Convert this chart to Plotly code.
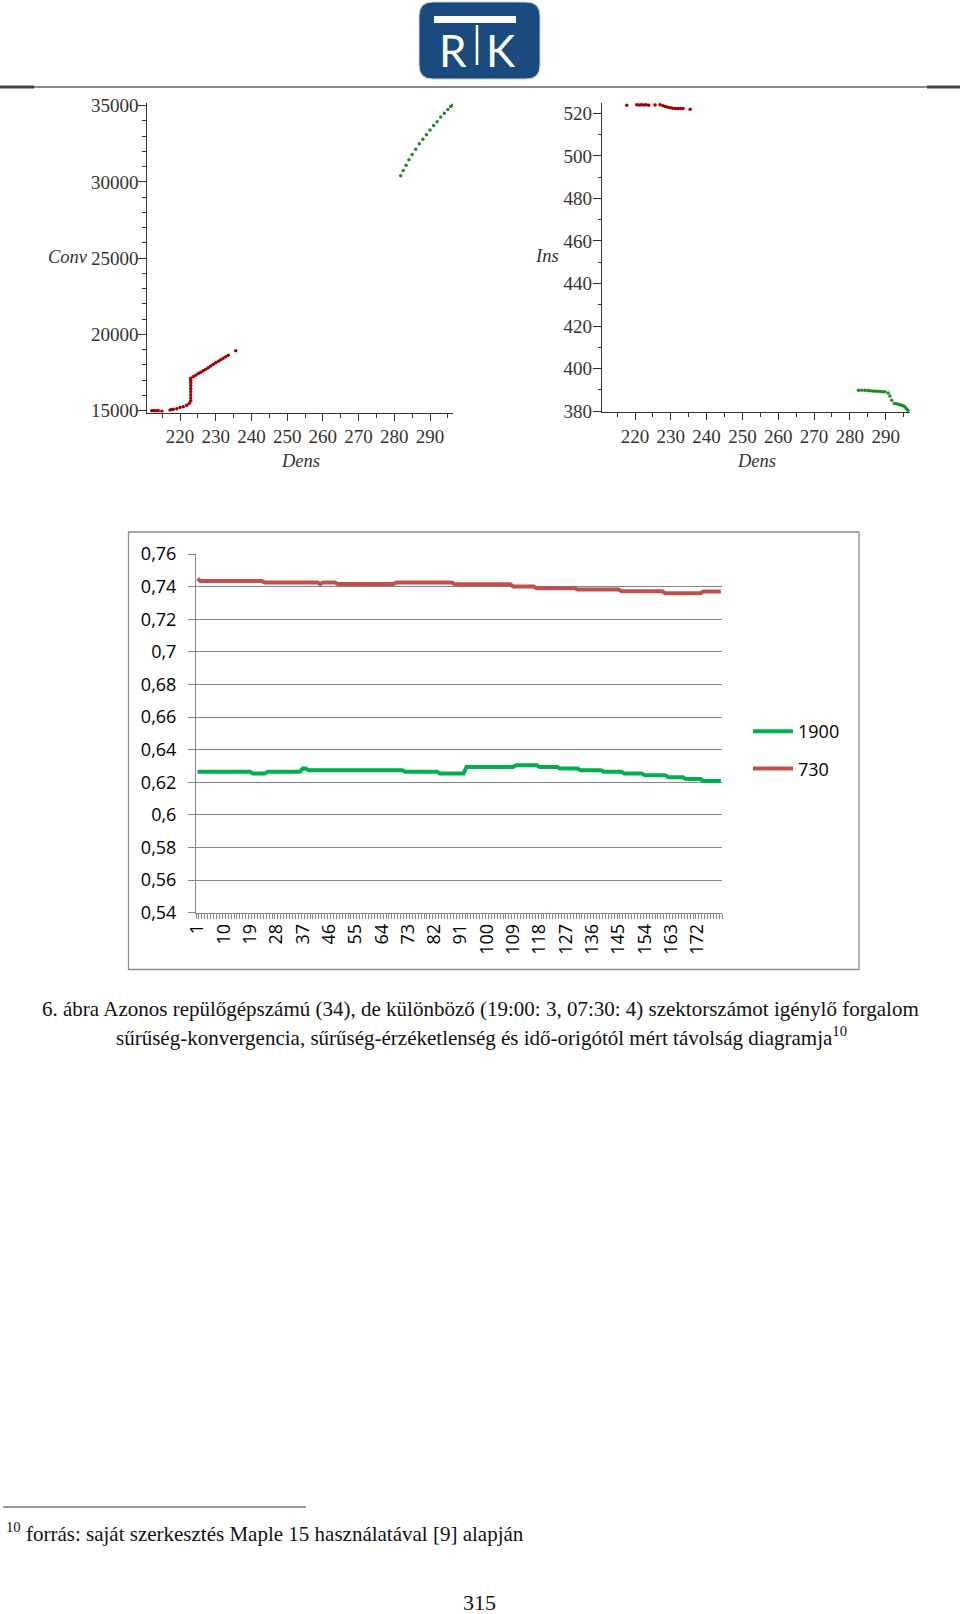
import plotly.graph_objects as go

W, H = 960, 1614

# ---- top left: Dens vs Conv (Maple point plot)
conv_red_dens = [212.1, 212.6, 213.0, 213.5, 213.9, 214.9, 217.2, 217.7, 218.1, 219.1, 220.0, 220.9, 221.9, 222.6,
                 223.0, 223.0, 223.0, 223.0, 223.0, 223.0, 223.0, 223.0, 223.0,
                 223.7, 224.4, 225.1, 225.8, 226.5, 227.2, 227.9, 228.6, 229.3, 230.0, 230.7, 231.4, 232.1, 232.8,
                 233.5, 235.6]
conv_red_val = [14990, 15000, 14980, 15000, 14990, 14960, 15050, 15070, 15090, 15130, 15200, 15260, 15350, 15490,
                15650, 15850, 16050, 16250, 16450, 16650, 16850, 17000, 17120,
                17230, 17330, 17430, 17520, 17620, 17720, 17820, 17930, 18040, 18140, 18240, 18340, 18440, 18540,
                18630, 18930]
conv_green_dens = [281.8, 282.5, 283.3, 284.1, 285.0, 286.0, 287.0, 288.0, 289.0, 290.0, 291.0, 292.0, 293.0,
                   294.0, 295.0, 295.8, 296.3]
conv_green_val = [30400, 30750, 31100, 31450, 31800, 32150, 32500, 32800, 33100, 33400, 33700, 33950, 34250,
                  34500, 34750, 34950, 35050]

# ---- top right: Dens vs Ins
ins_red_dens = [217.7, 220.5, 221.2, 221.8, 222.5, 223.1, 223.8, 225.6, 227.0, 227.8, 228.5, 229.2, 229.9, 230.6,
                231.3, 232.0, 232.7, 233.4, 235.4]
ins_red_val = [523.8, 524.0, 523.9, 524.0, 523.9, 524.0, 523.8, 523.9, 524.0, 523.6, 523.2, 522.8, 522.6, 522.4,
               522.3, 522.3, 522.2, 522.3, 521.9]
ins_green_dens = [282.4, 283.3, 284.2, 285.0, 285.6, 286.3, 287.0, 287.7, 288.4, 289.1, 289.8, 290.7, 291.2, 291.7,
                  292.4, 293.0, 293.5, 294.0, 294.5, 295.0, 295.4, 295.8, 296.2]
ins_green_val = [389.9, 389.9, 389.9, 389.7, 389.6, 389.5, 389.4, 389.4, 389.3, 389.2, 389.1, 388.6, 387.1, 385.2,
                 383.6, 383.5, 383.3, 383.0, 382.8, 382.4, 382.0, 381.2, 380.5]

# ---- bottom: Excel line chart, 180 categories
cats = list(range(1, 181))
line_1900 = ([0.6264] * 19 + [0.6253] * 5 + [0.6264] * 12 + [0.6284] * 2 + [0.6274] * 33 + [0.6264] * 12 +
             [0.6253] * 9 + [0.6294] * 17 + [0.6305] * 8 + [0.6294] * 7 + [0.6284] * 7 + [0.6274] * 8 +
             [0.6264] * 7 + [0.6253] * 7 + [0.6243] * 8 + [0.6230] * 6 + [0.6220] * 6 + [0.6208] * 7)
line_730 = ([0.7447] * 1 + [0.7435] * 22 + [0.7425] * 19 + [0.7416] * 1 + [0.7425] * 5 + [0.7416] * 20 +
            [0.7425] * 20 + [0.7414] * 20 + [0.7400] * 8 + [0.7390] * 14 + [0.7382] * 15 + [0.7371] * 15 +
            [0.7359] * 13 + [0.7370] * 7)
xtick_vals = list(range(1, 181, 9))
ytick_vals = [0.54, 0.56, 0.58, 0.60, 0.62, 0.64, 0.66, 0.68, 0.70, 0.72, 0.74, 0.76]
ytick_text = ["0,54", "0,56", "0,58", "0,6", "0,62", "0,64", "0,66", "0,68", "0,7", "0,72", "0,74", "0,76"]


def px(x):
    return x / W


def py(y):
    return 1 - y / H


serif = "Liberation Serif"
red_pt, green_pt = "#a00000", "#1e8c1e"

fig = go.Figure()
fig.add_trace(go.Scatter(x=conv_red_dens, y=conv_red_val, mode="markers", xaxis="x", yaxis="y",
                         marker=dict(color=red_pt, size=3.5), showlegend=False))
fig.add_trace(go.Scatter(x=conv_green_dens, y=conv_green_val, mode="markers", xaxis="x", yaxis="y",
                         marker=dict(color=green_pt, size=3.5), showlegend=False))
fig.add_trace(go.Scatter(x=ins_red_dens, y=ins_red_val, mode="markers", xaxis="x2", yaxis="y2",
                         marker=dict(color=red_pt, size=3.5), showlegend=False))
fig.add_trace(go.Scatter(x=ins_green_dens, y=ins_green_val, mode="markers", xaxis="x2", yaxis="y2",
                         marker=dict(color=green_pt, size=3.5), showlegend=False))
fig.add_trace(go.Scatter(x=cats, y=line_1900, mode="lines", name="1900", xaxis="x3", yaxis="y3",
                         line=dict(color="#00b050", width=4), legendgroup="a"))
fig.add_trace(go.Scatter(x=cats, y=line_730, mode="lines", name="730", xaxis="x3", yaxis="y3",
                         line=dict(color="#c0504d", width=4), legendgroup="b"))

maple_font = dict(family=serif, size=19, color="#333")
maple_ax = dict(showline=True, linecolor="#333", linewidth=1, ticks="outside", tickcolor="#333",
                showgrid=False, zeroline=False, tickfont=maple_font)
excel_font = dict(family="Open Sans", size=18, color="#000")

fig.update_layout(
    width=W, height=H, margin=dict(l=0, r=0, t=0, b=0),
    template="none", paper_bgcolor="white", plot_bgcolor="white",
    font=dict(family=serif, color="#333"),
    xaxis=dict(domain=[px(147.3), px(453)], range=[210.84, 296.44], anchor="y", dtick=10, tick0=0, ticklen=7,
               minor=dict(dtick=5, ticklen=4, ticks="outside", tickcolor="#333"), **maple_ax),
    yaxis=dict(domain=[py(412.5), py(103.4)], range=[14880, 35150], anchor="x", dtick=5000, tick0=0,
               ticklen=8, tickformat="d", ticklabelstandoff=-4,
               minor=dict(dtick=1000, ticklen=4, ticks="outside", tickcolor="#333"), **maple_ax),
    xaxis2=dict(domain=[px(601.7), px(910)], range=[210.7, 296.8], anchor="y2", dtick=10, tick0=0, ticklen=7,
                minor=dict(dtick=5, ticklen=4, ticks="outside", tickcolor="#333"), **maple_ax),
    yaxis2=dict(domain=[py(412.06), py(102.66)], range=[379.6, 525], anchor="x2", dtick=20, tick0=0,
                ticklen=8, ticklabelstandoff=-3,
                minor=dict(dtick=10, ticklen=3, ticks="outside", tickcolor="#333"), **maple_ax),
    xaxis3=dict(domain=[px(196), px(722.3)], range=[0.5, 180.5], anchor="y3", tickvals=xtick_vals,
                ticktext=[str(v) for v in xtick_vals], tickangle=-90, ticks="", showline=True,
                linecolor="#868686", showgrid=False, zeroline=False, ticklabelstandoff=3,
                minor=dict(dtick=1, tick0=0.5, ticks="outside", ticklen=5, tickcolor="#868686", showgrid=False),
                tickfont=excel_font),
    yaxis3=dict(domain=[py(912.7), py(554)], range=[0.54, 0.76], anchor="x3", tickvals=ytick_vals,
                ticktext=ytick_text, ticks="outside", ticklen=7, tickcolor="#868686", showline=True,
                linecolor="#868686", showgrid=True, gridcolor="#868686", gridwidth=1, zeroline=False,
                ticklabelstandoff=8, tickfont=excel_font),
    legend=dict(x=px(748), xanchor="left", y=py(713), yanchor="top", tracegroupgap=11, itemwidth=40,
                font=excel_font, bgcolor="rgba(0,0,0,0)"),
)

# logo: rounded navy box
x0, x1, y0, y1, r = 419, 540, 2, 79, 14
logo_path = (f"M{px(x0 + r)},{py(y0)} L{px(x1 - r)},{py(y0)} Q{px(x1)},{py(y0)} {px(x1)},{py(y0 + r)} "
             f"L{px(x1)},{py(y1 - r)} Q{px(x1)},{py(y1)} {px(x1 - r)},{py(y1)} L{px(x0 + r)},{py(y1)} "
             f"Q{px(x0)},{py(y1)} {px(x0)},{py(y1 - r)} L{px(x0)},{py(y0 + r)} Q{px(x0)},{py(y0)} {px(x0 + r)},{py(y0)} Z")
shapes = [
    dict(type="path", xref="paper", yref="paper", path=logo_path, fillcolor="#1a4a7e",
         line=dict(color="#c8d0da", width=1)),
    dict(type="rect", xref="paper", yref="paper", x0=px(434), x1=px(516), y0=py(23), y1=py(16),
         fillcolor="white", line=dict(width=0)),
    dict(type="line", xref="paper", yref="paper", x0=px(477), x1=px(477), y0=py(25), y1=py(65),
         line=dict(color="white", width=2.5)),
    # header rule
    dict(type="line", xref="paper", yref="paper", x0=0, x1=1, y0=py(87), y1=py(87),
         line=dict(color="#666", width=1.5)),
    dict(type="line", xref="paper", yref="paper", x0=0, x1=px(34), y0=py(87), y1=py(87),
         line=dict(color="#444", width=3)),
    dict(type="line", xref="paper", yref="paper", x0=px(927), x1=1, y0=py(87), y1=py(87),
         line=dict(color="#444", width=3)),
    # excel chart frame
    dict(type="rect", xref="paper", yref="paper", x0=px(128.5), x1=px(859), y0=py(969.5), y1=py(532),
         line=dict(color="#8c8c8c", width=1.3)),
    # footnote rule
    dict(type="line", xref="paper", yref="paper", x0=px(3), x1=px(306), y0=py(1507), y1=py(1507),
         line=dict(color="#333", width=1.2)),
]

ann = [
    dict(text="R", x=px(453), y=py(50), font=dict(family="Lato", size=44, color="white")),
    dict(text="K", x=px(501), y=py(50), font=dict(family="Lato", size=44, color="white")),
    dict(text="<i>Conv</i>", x=px(68), y=py(257), font=dict(family=serif, size=18.5, color="#333")),
    dict(text="<i>Dens</i>", x=px(300), y=py(461), font=dict(family=serif, size=18.5, color="#333")),
    dict(text="<i>Ins</i>", x=px(547), y=py(256), font=dict(family=serif, size=18.5, color="#333")),
    dict(text="<i>Dens</i>", x=px(756), y=py(461), font=dict(family=serif, size=18.5, color="#333")),
    dict(text="6. ábra Azonos repülőgépszámú (34), de különböző (19:00: 3, 07:30: 4) szektorszámot igénylő forgalom",
         x=0.5, y=py(1008.5), font=dict(family=serif, size=21, color="#111")),
    dict(text="sűrűség-konvergencia, sűrűség-érzéketlenség és idő-origótól mért távolság diagramja<sup>10</sup>",
         x=px(481), y=py(1036), font=dict(family=serif, size=21, color="#111")),
    dict(text="<sup>10</sup> forrás: saját szerkesztés Maple 15 használatával [9] alapján",
         x=px(4), y=py(1532), xanchor="left", font=dict(family=serif, size=21, color="#111")),
    dict(text="315", x=px(479.5), y=py(1602), font=dict(family=serif, size=22, color="#111")),
]
for a in ann:
    a.update(xref="paper", yref="paper", showarrow=False)
    a.setdefault("xanchor", "center")
    a.setdefault("yanchor", "middle")

fig.update_layout(shapes=shapes, annotations=ann)

# page body has a default 8px margin; drop it so the figure sits at the window corner
fig.write_html("out.html", config={"displayModeBar": False},
               post_script="document.body.style.margin='0px';")
